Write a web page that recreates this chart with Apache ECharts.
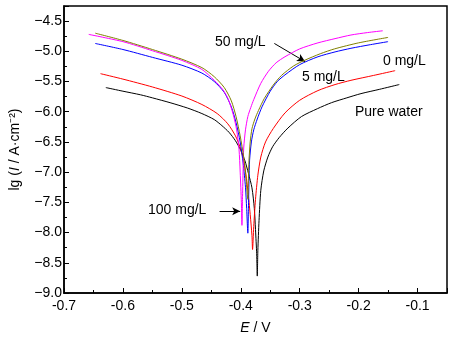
<!DOCTYPE html>
<html>
<head>
<meta charset="utf-8">
<script src="https://cdn.jsdelivr.net/npm/echarts@6/dist/echarts.min.js"></script>
<style>
  html, body { margin: 0; padding: 0; background: #fff; }
  #chart { width: 455px; height: 340px; }
</style>
</head>
<body>
<div id="chart"></div>
<script>
// Tafel polarization curves: potential E (V) vs lg(current density)
const seriesNames = ['Pure water', '0 mg/L', '5 mg/L', '100 mg/L', '50 mg/L'];

const pureWater = [
  [-0.629, -5.60], [-0.600, -5.66], [-0.570, -5.72], [-0.550, -5.77], [-0.520, -5.85],
  [-0.490, -5.94], [-0.466, -6.03], [-0.445, -6.13], [-0.432, -6.23], [-0.420, -6.34],
  [-0.409, -6.48], [-0.400, -6.64], [-0.393, -6.81], [-0.387, -7.02], [-0.381, -7.26],
  [-0.377, -7.60], [-0.375, -7.95], [-0.373, -8.35], [-0.372, -8.72],
  [-0.371, -8.30], [-0.369, -7.80], [-0.366, -7.30], [-0.361, -6.98], [-0.354, -6.75],
  [-0.346, -6.58], [-0.335, -6.43], [-0.320, -6.27], [-0.297, -6.08], [-0.270, -5.95],
  [-0.246, -5.85], [-0.220, -5.77], [-0.196, -5.70], [-0.165, -5.63], [-0.131, -5.55]
];

const conc0 = [
  [-0.638, -5.37], [-0.600, -5.46], [-0.550, -5.59], [-0.500, -5.74], [-0.466, -5.88],
  [-0.440, -6.03], [-0.422, -6.20], [-0.409, -6.40], [-0.400, -6.62], [-0.393, -6.92],
  [-0.388, -7.30], [-0.384, -7.70], [-0.381, -8.05], [-0.380, -8.28],
  [-0.378, -7.90], [-0.375, -7.45], [-0.371, -7.05], [-0.366, -6.75], [-0.358, -6.50],
  [-0.345, -6.28], [-0.325, -6.02], [-0.300, -5.81], [-0.269, -5.65], [-0.240, -5.55],
  [-0.213, -5.48], [-0.175, -5.40], [-0.138, -5.32]
];

const conc5 = [
  [-0.647, -4.87], [-0.600, -4.97], [-0.550, -5.10], [-0.500, -5.23], [-0.466, -5.36],
  [-0.445, -5.50], [-0.428, -5.68], [-0.416, -5.92], [-0.408, -6.18], [-0.401, -6.50],
  [-0.396, -6.85], [-0.392, -7.25], [-0.390, -7.60], [-0.388, -8.01],
  [-0.387, -7.60], [-0.386, -7.15], [-0.385, -6.80], [-0.382, -6.50], [-0.378, -6.30],
  [-0.372, -6.12], [-0.364, -5.92], [-0.350, -5.66], [-0.338, -5.50], [-0.325, -5.39],
  [-0.300, -5.22], [-0.269, -5.09], [-0.240, -5.01], [-0.213, -4.95], [-0.180, -4.89],
  [-0.150, -4.84]
];

const conc50 = [
  [-0.647, -4.70], [-0.600, -4.82], [-0.550, -4.97], [-0.500, -5.13], [-0.466, -5.27],
  [-0.445, -5.42], [-0.428, -5.60], [-0.416, -5.82], [-0.408, -6.08], [-0.401, -6.40],
  [-0.395, -6.75], [-0.391, -7.12], [-0.388, -7.45],
  [-0.387, -7.10], [-0.386, -6.80], [-0.384, -6.50], [-0.381, -6.28], [-0.376, -6.12],
  [-0.370, -5.98], [-0.360, -5.78], [-0.345, -5.56], [-0.331, -5.40], [-0.310, -5.24],
  [-0.292, -5.15], [-0.265, -5.04], [-0.241, -4.96], [-0.200, -4.86], [-0.150, -4.77]
];

const conc100 = [
  [-0.658, -4.72], [-0.600, -4.84], [-0.550, -4.99], [-0.500, -5.15], [-0.466, -5.30],
  [-0.445, -5.48], [-0.430, -5.64], [-0.421, -5.80], [-0.413, -6.04], [-0.407, -6.30],
  [-0.403, -6.62], [-0.401, -7.00], [-0.399, -7.50], [-0.398, -7.88],
  [-0.397, -7.40], [-0.396, -6.95], [-0.395, -6.60], [-0.392, -6.30], [-0.388, -6.08],
  [-0.383, -5.93], [-0.378, -5.80], [-0.366, -5.53], [-0.353, -5.33], [-0.340, -5.19],
  [-0.325, -5.09], [-0.300, -4.96], [-0.269, -4.86], [-0.240, -4.79], [-0.213, -4.73],
  [-0.185, -4.69], [-0.159, -4.66]
];

const curveData = [pureWater, conc0, conc5, conc100, conc50];
const curveColors = ['#000000', '#ff0000', '#0000ff', '#ff00ff', '#808000'];

// Arrow annotations (data coordinates)
const arrow50 = [[-0.343, -4.87], [-0.291, -5.17]];
const arrow100 = [[-0.436, -7.645], [-0.401, -7.645]];

const FONT = 'Liberation Sans, Arial, sans-serif';

const chart = echarts.init(document.getElementById('chart'), null, { renderer: 'canvas' });

function arrowLine(pts) {
  return {
    silent: true,
    symbol: ['none', 'arrow'],
    symbolSize: [6, 8],
    label: { show: false },
    lineStyle: { color: '#000', width: 1, type: 'solid' },
    emphasis: { disabled: true },
    data: [[{ coord: pts[0] }, { coord: pts[1] }]]
  };
}

const series = curveData.map((d, i) => {
  const s = {
    name: seriesNames[i],
    type: 'line',
    data: d,
    showSymbol: false,
    symbol: 'none',
    smooth: 0.25,
    lineStyle: { color: curveColors[i], width: 1 },
    itemStyle: { color: curveColors[i] },
    emphasis: { disabled: true },
    animation: false,
    z: 2 + i
  };
  if (seriesNames[i] === '50 mg/L') s.markLine = arrowLine(arrow50);
  if (seriesNames[i] === '100 mg/L') s.markLine = arrowLine(arrow100);
  return s;
});

const textStyle = { fontFamily: FONT, fontSize: 14, fill: '#000' };
function label(text, x, y, align) {
  return {
    type: 'text', x: x, y: y, silent: true,
    style: Object.assign({}, textStyle, { text: text, align: align || 'left', verticalAlign: 'middle' })
  };
}

chart.setOption({
  animation: false,
  backgroundColor: '#fff',
  grid: {
    left: 61, top: 6, right: 8, bottom: 47,
    show: true, borderColor: '#000', borderWidth: 1.5, backgroundColor: 'transparent'
  },
  xAxis: {
    type: 'value',
    min: -0.7, max: -0.05, interval: 0.1,
    name: '{i|E} / V',
    nameLocation: 'middle',
    nameGap: 28,
    nameTextStyle: {
      fontFamily: FONT, fontSize: 14, color: '#000',
      rich: { i: { fontFamily: FONT, fontSize: 14, fontStyle: 'italic', color: '#000' } }
    },
    axisLine: { lineStyle: { color: '#000', width: 1.5 } },
    axisTick: { inside: true, length: 5, lineStyle: { color: '#000', width: 1 } },
    minorTick: { show: true, splitNumber: 2, length: 3, lineStyle: { color: '#000', width: 1 } },
    axisLabel: {
      fontFamily: FONT, fontSize: 14, color: '#000', margin: 6,
      formatter: v => (Math.abs(v + 0.05) < 1e-6 ? '' : v.toFixed(1))
    },
    splitLine: { show: false }
  },
  yAxis: {
    type: 'value',
    min: -9, max: -4.25, interval: 0.5,
    name: 'lg ({i|I} / A·cm{sup|⁻²})',
    nameLocation: 'middle',
    nameRotate: 90,
    nameGap: 42,
    nameTextStyle: {
      fontFamily: FONT, fontSize: 14, color: '#000',
      rich: {
        i: { fontFamily: FONT, fontSize: 14, fontStyle: 'italic', color: '#000' },
        sup: { fontFamily: FONT, fontSize: 14, color: '#000' }
      }
    },
    axisLine: { lineStyle: { color: '#000', width: 1.5 } },
    axisTick: { inside: true, length: 5, lineStyle: { color: '#000', width: 1 } },
    minorTick: { show: true, splitNumber: 2, length: 3, lineStyle: { color: '#000', width: 1 } },
    axisLabel: {
      fontFamily: FONT, fontSize: 14, color: '#000', margin: 2,
      formatter: v => (Math.abs(v + 4.25) < 1e-6 ? '' : v.toFixed(1).replace('-', '\u2212'))
    },
    splitLine: { show: false }
  },
  series: series,
  graphic: [
    label('50 mg/L', 215, 42),
    label('5 mg/L', 302, 77),
    label('0 mg/L', 383, 61),
    label('Pure water', 355, 112),
    label('100 mg/L', 148, 210)
  ]
});
</script>
</body>
</html>
